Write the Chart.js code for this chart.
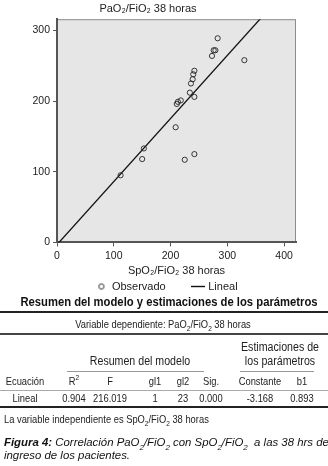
<!DOCTYPE html>
<html lang="es">
<head>
<meta charset="utf-8">
<script src="https://cdn.jsdelivr.net/npm/chart.js@4.4.1/dist/chart.umd.min.js"></script>
<style>
  body { margin: 0; background: #fff; width: 328px; height: 466px; overflow: hidden; font-family: 'Liberation Sans', Arial, sans-serif; color: #222; }
  #chartBox { position: absolute; left: 0; top: 0; width: 328px; height: 302px; }
  #tbl { position: absolute; left: 0; top: 0; width: 328px; height: 466px; }
  .t { position: absolute; white-space: nowrap; font-size: 11px; line-height: 1; }
  .h { font-weight: bold; font-size: 13px; color: #111; }
  .big { font-size: 12.5px; }
  .rule { position: absolute; left: 0; width: 328px; }
  .cap { position: absolute; left: 4px; white-space: nowrap; font-style: italic; font-size: 11.4px; line-height: 1; transform: translateY(-50%); color: #111; }
  sub, sup { font-size: 70%; line-height: 0; }
</style>
</head>
<body>
<div id="chartBox"><canvas id="scatter"></canvas></div>
<div id="tbl"></div>
<script>
const spo2 = [283, 276, 279, 273, 330, 242, 240, 239, 236, 234, 242, 218, 213, 211, 209, 153, 150, 225, 242, 112];
const pao2 = [289, 272, 272, 264, 258, 243, 238, 231, 225, 212, 206, 201, 199, 196, 163, 133, 118, 117, 125, 95];

// Fitted line ends (drawn through the frame, clipped)
const fitX = [0, 400];
const fitY = [-3.2, 354];

const xTicks = [0, 100, 200, 300, 400];
const yTicks = [0, 100, 200, 300];

// Table
const tableTitle = 'Resumen del modelo y estimaciones de los parámetros';
const depVar = 'Variable dependiente: PaO<sub>2</sub>/FiO<sub>2</sub> 38 horas';
const colHeads = ['Ecuación', 'R<sup>2</sup>', 'F', 'gl1', 'gl2', 'Sig.', 'Constante', 'b1'];
const rowVals = ['Lineal', '0.904', '216.019', '1', '23', '0.000', '-3.168', '0.893'];
const indepNote = 'La variable independiente es SpO<sub>2</sub>/FiO<sub>2</sub> 38 horas';

const colX = [25, 74, 110, 155, 183, 211, 260, 302];
const narrow = 0.85;

const tickColor = '#222';

const plotBg = {
  id: 'plotBg',
  beforeDraw(chart) {
    const { ctx, chartArea: a } = chart;
    ctx.save();
    ctx.fillStyle = '#e6e6e6';
    ctx.fillRect(a.left, a.top, a.right - a.left, a.bottom - a.top);
    ctx.strokeStyle = '#8c8c8c';
    ctx.lineWidth = 1;
    ctx.strokeRect(a.left + 0.5, a.top + 0.5, a.right - a.left - 1, a.bottom - a.top - 1);
    ctx.restore();
  }
};

// legend is centred on the whole figure width, not on the plot column
const legendShift = {
  id: 'legendShift',
  afterLayout(chart) {
    chart.legend.right += 38;
  }
};

function pointImg(kind) {
  const c = document.createElement('canvas');
  const g = c.getContext('2d');
  if (kind === 'circle') {
    c.width = 8; c.height = 8;
    g.strokeStyle = '#222'; g.lineWidth = 0.9;
    g.beginPath(); g.arc(4, 4, 2.6, 0, Math.PI * 2); g.stroke();
  } else {
    c.width = 14; c.height = 3;
    g.strokeStyle = '#111'; g.lineWidth = 1.4;
    g.beginPath(); g.moveTo(0, 1.5); g.lineTo(14, 1.5); g.stroke();
  }
  return c;
}

const keepTicks = (list) => (scale) => {
  scale.ticks = list.map(v => ({ value: v }));
};

const chart = new Chart(document.getElementById('scatter').getContext('2d'), {
  type: 'scatter',
  data: {
    datasets: [{
      label: 'Observado',
      data: spo2.map((x, i) => ({ x, y: pao2[i] })),
      pointStyle: 'circle',
      pointRadius: 2.6,
      pointBorderWidth: 0.9,
      pointBorderColor: '#222',
      pointBackgroundColor: 'rgba(0,0,0,0)',
      legendImg: pointImg('circle')
    }, {
      label: 'Lineal',
      type: 'line',
      data: fitX.map((x, i) => ({ x, y: fitY[i] })),
      borderColor: '#111',
      borderWidth: 1.3,
      pointRadius: 0,
      fill: false,
      legendImg: pointImg('line')
    }]
  },
  options: {
    responsive: true,
    maintainAspectRatio: false,
    animation: false,
    layout: { padding: { left: 0, right: 32, top: 0, bottom: 0 } },
    plugins: {
      title: {
        display: true,
        text: 'PaO₂/FiO₂ 38 horas',
        color: tickColor,
        font: { family: 'Liberation Sans', size: 11, weight: 'normal' },
        padding: { top: 2, bottom: 4 }
      },
      legend: {
        position: 'bottom',
        labels: {
          color: tickColor,
          font: { family: 'Liberation Sans', size: 11 },
          usePointStyle: true,
          pointStyleWidth: 10,
          boxHeight: 8,
          padding: 5,
          // wider gap after the first entry, as in the figure
          generateLabels: (c) => c.data.datasets.map((d, i) => ({
            text: i === 0 ? d.label + '\u2002\u2002\u2002\u2002' : d.label,
            fontColor: tickColor,
            pointStyle: d.legendImg,
            datasetIndex: i,
            lineWidth: 0,
            strokeStyle: 'rgba(0,0,0,0)',
            fillStyle: 'rgba(0,0,0,0)'
          }))
        }
      },
      tooltip: { enabled: false }
    },
    scales: {
      x: {
        type: 'linear',
        min: 0,
        max: 421,
        afterBuildTicks: keepTicks(xTicks),
        border: { color: '#555', width: 2 },
        grid: { drawOnChartArea: false, color: '#555', tickLength: 4 },
        ticks: { color: tickColor, padding: 3, font: { family: 'Liberation Sans', size: 10.5 } },
        title: { display: true, text: 'SpO₂/FiO₂ 38 horas', color: tickColor, padding: { top: 0, bottom: 0 }, font: { family: 'Liberation Sans', size: 11, lineHeight: 1.0 } }
      },
      y: {
        type: 'linear',
        min: 0,
        max: 316,
        afterBuildTicks: keepTicks(yTicks),
        afterFit: (s) => { s.width = 57; },
        border: { color: '#555', width: 2 },
        grid: { drawOnChartArea: false, color: '#555', tickLength: 4 },
        ticks: { color: tickColor, padding: 3, font: { family: 'Liberation Sans', size: 10.5 } }
      }
    }
  },
  plugins: [plotBg, legendShift]
});

// Table below the chart
const tbl = document.getElementById('tbl');
// place text centred on (x, y), squeezed horizontally to look condensed
function text(html, x, y, cls, opts) {
  opts = opts || {};
  const el = document.createElement('div');
  el.className = 't' + (cls ? ' ' + cls : '');
  el.style.left = x + 'px';
  el.style.top = y + 'px';
  el.innerHTML = html;
  tbl.appendChild(el);
  const w = el.offsetWidth;
  const k = opts.width ? opts.width / w : narrow;
  if (opts.left) {
    el.style.transformOrigin = '0 50%';
    el.style.transform = `translateY(-50%) scaleX(${k})`;
  } else {
    el.style.transform = `translate(-50%, -50%) scaleX(${k})`;
  }
  return el;
}
function rule(y, h, color, x0, x1) {
  const el = document.createElement('div');
  el.className = 'rule';
  el.style.top = y + 'px';
  el.style.height = h + 'px';
  el.style.background = color;
  if (x0 !== undefined) { el.style.left = x0 + 'px'; el.style.width = (x1 - x0) + 'px'; }
  tbl.appendChild(el);
}

text(tableTitle, 169, 301, 'h', { width: 297 });
rule(311, 2, '#222');
text(depVar, 163, 323.5);
rule(333, 1.5, '#444');
text('Estimaciones de', 280, 347, 'big');
text('Resumen del modelo', 140, 361, 'big');
text('los parámetros', 280, 361, 'big');
rule(371, 1, '#999', 67, 204);
rule(371, 1, '#999', 240, 314);
colHeads.forEach((h, i) => text(h, colX[i], 381));
rule(389.5, 1, '#aaa');
rowVals.forEach((v, i) => text(v, colX[i], 398));
rule(406, 2, '#222');
text(indepNote, 4, 419, '', { left: true });

const cap1 = document.createElement('div');
cap1.className = 'cap';
cap1.style.top = '443px';
cap1.innerHTML = '<b>Figura 4:</b> Correlación PaO<sub>2</sub>/FiO<sub>2</sub> con SpO<sub>2</sub>/FiO<sub>2</sub>&nbsp; a las 38 hrs del';
tbl.appendChild(cap1);
const cap2 = document.createElement('div');
cap2.className = 'cap';
cap2.style.top = '456px';
cap2.textContent = 'ingreso de los pacientes.';
tbl.appendChild(cap2);
</script>
</body>
</html>
